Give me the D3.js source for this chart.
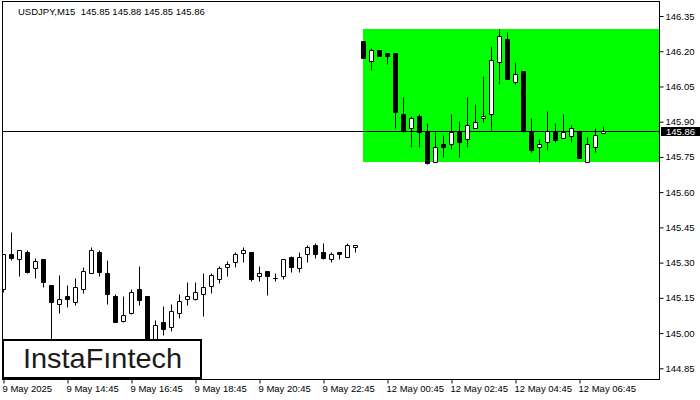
<!DOCTYPE html>
<html><head><meta charset="utf-8">
<script src="https://cdn.jsdelivr.net/npm/d3@7"></script>
<style>
html,body{margin:0;padding:0;background:#fff;}
svg{display:block;}
text{font-family:"Liberation Sans",Arial,sans-serif;}
</style></head>
<body>
<svg id="chart" width="700" height="400"></svg>
<script>
const title = "USDJPY,M15  145.85 145.88 145.85 145.86";
const openV = [145.188,145.335,145.315,145.344,145.276,145.315,145.205,145.123,145.159,145.134,
145.186,145.254,145.347,145.254,145.159,145.053,145.084,145.188,145.159,144.958,
145.046,145.024,145.084,145.144,145.144,145.165,145.202,145.232,145.283,145.304,
145.342,145.344,145.244,145.264,145.235,145.244,145.323,145.276,145.335,145.375,
145.344,145.314,145.344,145.323,145.365,146.244,146.16,146.205,146.191,146.191,
145.931,145.872,145.924,145.86,145.73,145.805,145.804,145.862,145.825,145.872,
145.914,145.931,146.153,146.252,146.07,146.116,145.855,145.794,145.812,145.855,
145.832,145.84,145.86,145.73,145.794,145.85];
const highV = [145.335,145.429,145.354,145.354,145.321,145.315,145.205,145.247,145.205,145.233,
145.283,145.365,145.354,145.311,145.168,145.159,145.188,145.287,145.159,145.056,
145.115,145.123,145.166,145.216,145.216,145.254,145.254,145.286,145.307,145.347,
145.365,145.344,145.284,145.264,145.254,145.315,145.327,145.344,145.375,145.382,
145.382,145.344,145.344,145.382,145.375,146.244,146.215,146.205,146.191,146.191,
146.004,145.926,145.931,145.893,145.855,145.843,145.933,145.903,146.004,145.975,
146.095,146.222,146.295,146.28,146.153,146.116,145.914,145.825,145.946,145.893,
145.931,145.886,145.86,145.834,145.872,145.88];
const lowV = [145.176,145.311,145.244,145.255,145.233,145.195,144.97,145.084,145.112,145.12,
145.169,145.254,145.244,145.123,145.046,145.048,145.08,145.12,144.95,144.958,
144.99,145.009,145.063,145.12,145.14,145.074,145.172,145.214,145.244,145.283,
145.304,145.22,145.22,145.162,145.22,145.23,145.261,145.261,145.304,145.321,
145.314,145.304,145.314,145.323,145.344,146.172,146.12,146.181,146.144,145.872,
145.855,145.794,145.794,145.72,145.73,145.751,145.782,145.751,145.794,145.872,
145.9,145.865,146.06,146.08,146.06,145.855,145.772,145.73,145.78,145.812,
145.832,145.812,145.744,145.73,145.772,145.85];
const closeV = [145.335,145.318,145.354,145.261,145.307,145.216,145.134,145.145,145.145,145.197,
145.264,145.354,145.261,145.165,145.046,145.077,145.174,145.141,144.958,145.034,
145.017,145.094,145.137,145.158,145.174,145.195,145.247,145.276,145.293,145.335,
145.354,145.23,145.254,145.244,145.233,145.315,145.283,145.323,145.365,145.335,
145.321,145.335,145.335,145.375,145.375,146.172,146.205,146.181,146.181,145.943,
145.865,145.914,145.855,145.723,145.794,145.794,145.855,145.812,145.886,145.9,
145.924,146.161,146.265,146.082,146.101,145.865,145.78,145.804,145.862,145.822,
145.855,145.872,145.744,145.804,145.843,145.86];
const xTickIdx = [0,8,16,24,32,40,48,56,64,72];
const xTickLabels = ["9 May 2025","9 May 14:45","9 May 16:45","9 May 18:45","9 May 20:45","9 May 22:45","12 May 00:45","12 May 02:45","12 May 04:45","12 May 06:45"];
const yTicks = [144.85,145.00,145.15,145.30,145.45,145.60,145.75,145.90,146.05,146.20,146.35];
const zoneStartIdx = 45;
const zoneTop = 146.293, zoneBottom = 145.727;
const currentPrice = 145.86;
const logoText = "InstaFıntech";

const svg = d3.select("#chart");
const plotL = 2, plotR = 659, plotT = 1, plotB = 379;
const x = d3.scaleBand().domain(d3.range(openV.length)).range([0, openV.length*8]);
const xc = i => x(i) + 3.5;
const y = d3.scaleLinear().domain([144.85, 146.35]).range([368.3, 16]);
const ry = v => Math.round(y(v)) + 0.5;

const g = svg.append("g");
g.append("defs").append("clipPath").attr("id","clip").append("rect")
  .attr("x",plotL+1).attr("y",plotT+1).attr("width",plotR-plotL-1).attr("height",plotB-plotT-1);

// green zone
g.append("rect").attr("x", Math.floor(xc(zoneStartIdx))).attr("y", Math.round(y(zoneTop)))
  .attr("width", plotR - Math.floor(xc(zoneStartIdx))).attr("height", Math.round(y(zoneBottom)) - Math.round(y(zoneTop)))
  .attr("fill", "#00ff00");

// current price line
g.append("line").attr("x1", plotL).attr("x2", plotR).attr("y1", ry(currentPrice)).attr("y2", ry(currentPrice))
  .attr("stroke", "#000").attr("stroke-width", 1);

const candles = g.append("g").attr("clip-path","url(#clip)");
const data = d3.range(openV.length).map(i => ({i, o:openV[i], h:highV[i], l:lowV[i], c:closeV[i]}));
candles.selectAll("line.w").data(data).join("line").attr("class","w")
  .attr("x1", d => xc(d.i)).attr("x2", d => xc(d.i))
  .attr("y1", d => ry(d.h)).attr("y2", d => ry(d.l))
  .attr("stroke", "#000").attr("stroke-width", 1);
candles.selectAll("path.b").data(data).join("path").attr("class","b")
  .attr("d", d => {
    const t = ry(Math.max(d.o,d.c)), b = ry(Math.min(d.o,d.c));
    const x0 = xc(d.i) - 2, x1 = xc(d.i) + 2;
    return `M${x0},${t}H${x1}V${b}H${x0}Z`;
  })
  .attr("fill", d => d.c >= d.o ? "#fff" : "#000")
  .attr("stroke", "#000").attr("stroke-width", 1);

// frame
g.append("rect").attr("x", plotL+0.5).attr("y", plotT+0.5).attr("width", plotR-plotL).attr("height", plotB-plotT)
  .attr("fill","none").attr("stroke","#000").attr("stroke-width",1);

// y axis
const yAxis = g.append("g").attr("transform", `translate(${plotR+0.5},0)`)
  .call(d3.axisRight(y).tickValues(yTicks).tickSize(4).tickPadding(2).tickFormat(d3.format(".2f")));
yAxis.select(".domain").remove();
yAxis.selectAll(".tick line").attr("stroke","#000");
yAxis.selectAll(".tick text").attr("font-family","Liberation Sans, Arial, sans-serif").attr("font-size","9.5px").attr("fill","#000");
yAxis.attr("font-size", null);

// x axis
const xl = d3.scaleLinear().domain([0, openV.length-1]).range([xc(0), xc(openV.length-1)]);
const xAxis = g.append("g").attr("transform", `translate(0,${plotB+0.5})`)
  .call(d3.axisBottom(xl).tickValues(xTickIdx).tickSize(4).tickPadding(2).tickFormat((d,k) => xTickLabels[k]));
xAxis.select(".domain").remove();
xAxis.selectAll(".tick line").attr("stroke","#000");
xAxis.selectAll(".tick text").attr("text-anchor","start").attr("x",-1.5)
  .attr("font-family","Liberation Sans, Arial, sans-serif").attr("font-size","9.5px").attr("fill","#000");

// current price box
const cy = Math.round(y(currentPrice));
g.append("rect").attr("x", plotR+2).attr("y", cy-4).attr("width", 40).attr("height", 9).attr("fill","#000");
g.append("text").attr("x", 666).attr("y", cy+0.5).attr("dy","0.35em").attr("fill","#fff")
  .attr("font-size","9.5px").text(d3.format(".2f")(currentPrice));

// title
g.append("text").attr("x", 18).attr("y", 15).attr("font-size","9.5px").attr("fill","#000")
  .attr("xml:space","preserve").style("white-space","pre").text(title);

// logo
g.append("rect").attr("x",3).attr("y",340).attr("width",198).attr("height",38)
  .attr("fill","#fff").attr("stroke","#000").attr("stroke-width",2);
g.append("text").attr("x",23).attr("y",368).attr("font-family","Inter, Lato, sans-serif")
  .attr("font-weight",500).attr("font-size","28px").attr("fill","#1a1a1a")
  .attr("textLength",159).attr("lengthAdjust","spacingAndGlyphs").text(logoText);
</script>
</body></html>
